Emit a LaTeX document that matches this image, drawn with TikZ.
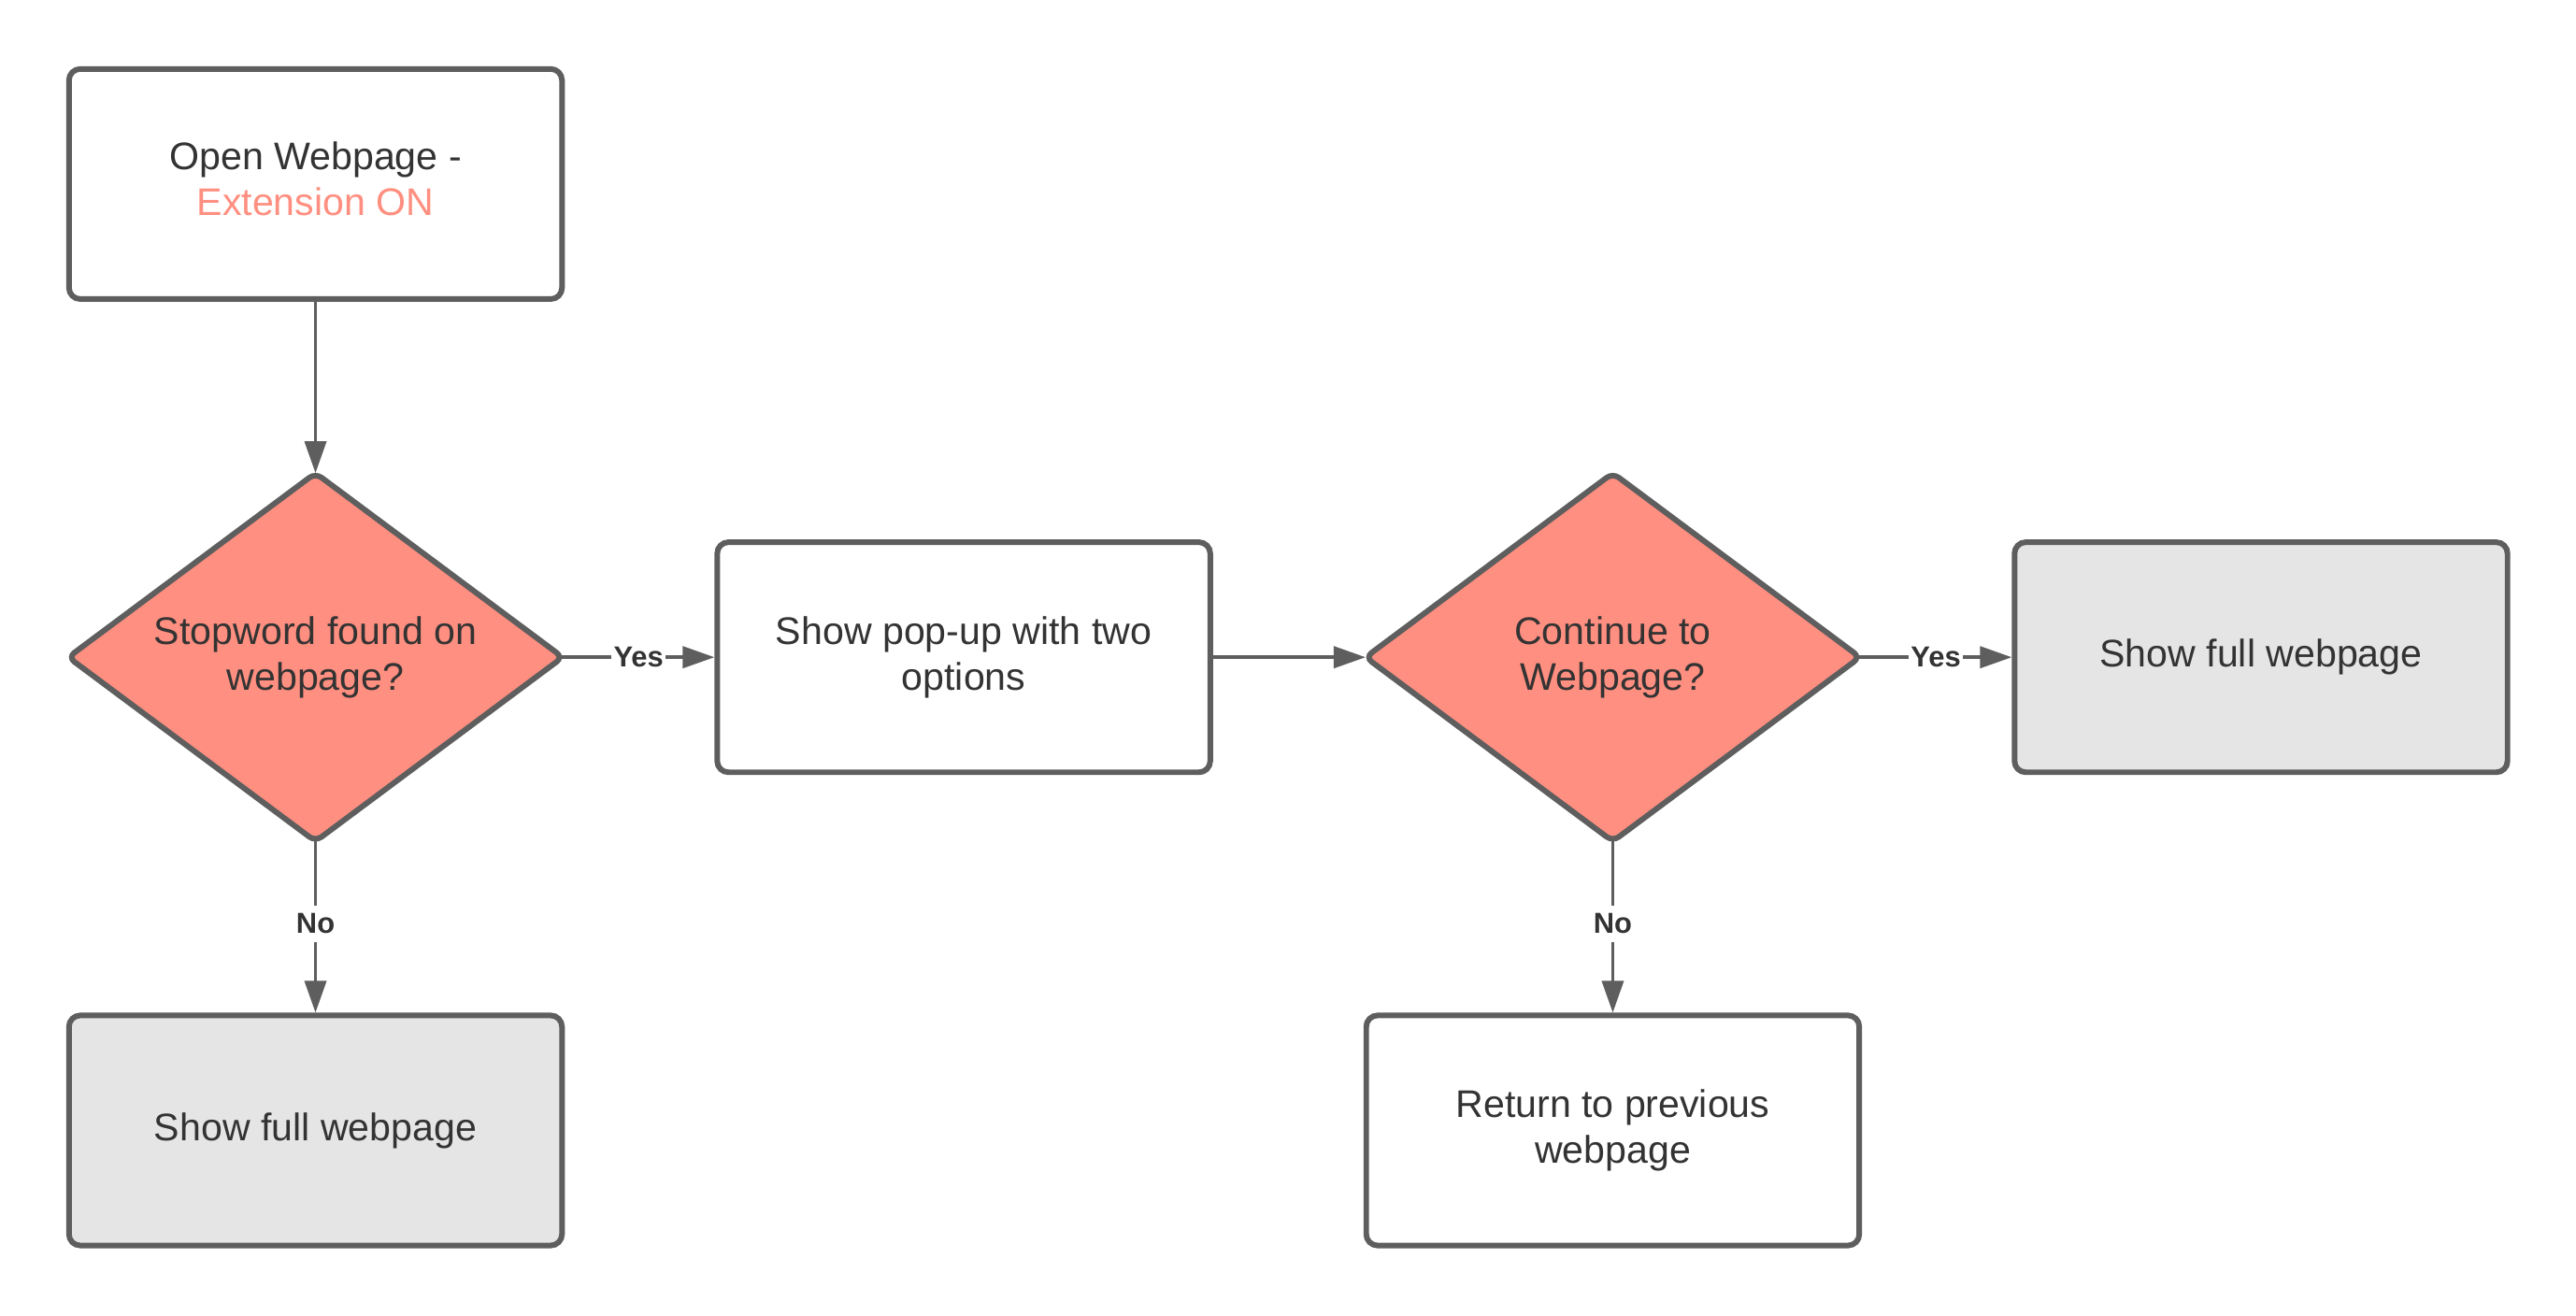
\documentclass[tikz,border=0pt]{standalone}
\usepackage{fontspec}
\setmainfont{Liberation Sans}
\usetikzlibrary{shapes.geometric,arrows.meta}
\definecolor{edgegray}{HTML}{5E5E5E}
\definecolor{txt}{HTML}{333333}
\definecolor{salmon}{HTML}{FF8F80}
\definecolor{lightgray}{HTML}{E5E5E5}
\tikzset{
  maintext/.style={align=center, text=txt, font=\fontsize{11.7pt}{14pt}\selectfont},
  basebox/.style={maintext, draw=edgegray, line width=1.7pt, rounded corners=0.12cm, minimum width=5.274cm, minimum height=2.461cm, inner sep=0pt},
  whitebox/.style={basebox, fill=white},
  graybox/.style={basebox, fill=lightgray},
  decision/.style={diamond, draw=edgegray, line width=1.7pt, rounded corners=0.08cm, fill=salmon, minimum width=5.29cm, minimum height=3.94cm, inner sep=0pt, outer sep=0pt},
  conn/.style={draw=edgegray, line width=1.0pt, -{Triangle[length=0.34cm,width=0.23cm]}},
  fromside/.style={shorten <=-0.05cm},
  frombottom/.style={shorten <=-0.02cm},
  edgelabel/.style={fill=white, inner xsep=0.6pt, inner ysep=2.5pt, text=txt, font=\bfseries\fontsize{8.8pt}{10pt}\selectfont}
}
\begin{document}
\begin{tikzpicture}[x=0.01758cm,y=-0.01758cm]
\useasboundingbox[fill=white] (0,0) rectangle (1567.7,800.9);
\node[whitebox] (open) at (192,112) {};
\node[maintext] (opentext) at (192,109) {Open Webpage -\\\textcolor{salmon}{Extension ON}};
\node[decision] (stop) at (192,400) {};
\node[maintext] (stoptext) at (stop.center) {Stopword found on\\webpage?};
\node[whitebox] (popup) at (586.5,400) {Show pop-up with two\\options};
\node[decision] (cont) at (981.5,400) {};
\node[maintext] (conttext) at (cont.center) {Continue to\\Webpage?};
\node[graybox] (full1) at (1376,400) {Show full webpage};
\node[graybox] (full2) at (192,688) {Show full webpage};
\node[whitebox] (ret) at (981.5,688) {Return to previous\\webpage};

\draw[conn] (open) -- (stop);
\draw[conn, fromside] (stop) -- node[edgelabel] {Yes} (popup);
\draw[conn, frombottom] (stop) -- node[edgelabel, pos=0.48] {No} (full2);
\draw[conn] (popup) -- (cont);
\draw[conn, fromside] (cont) -- node[edgelabel] {Yes} (full1);
\draw[conn, frombottom] (cont) -- node[edgelabel, pos=0.48] {No} (ret);
\end{tikzpicture}
\end{document}
